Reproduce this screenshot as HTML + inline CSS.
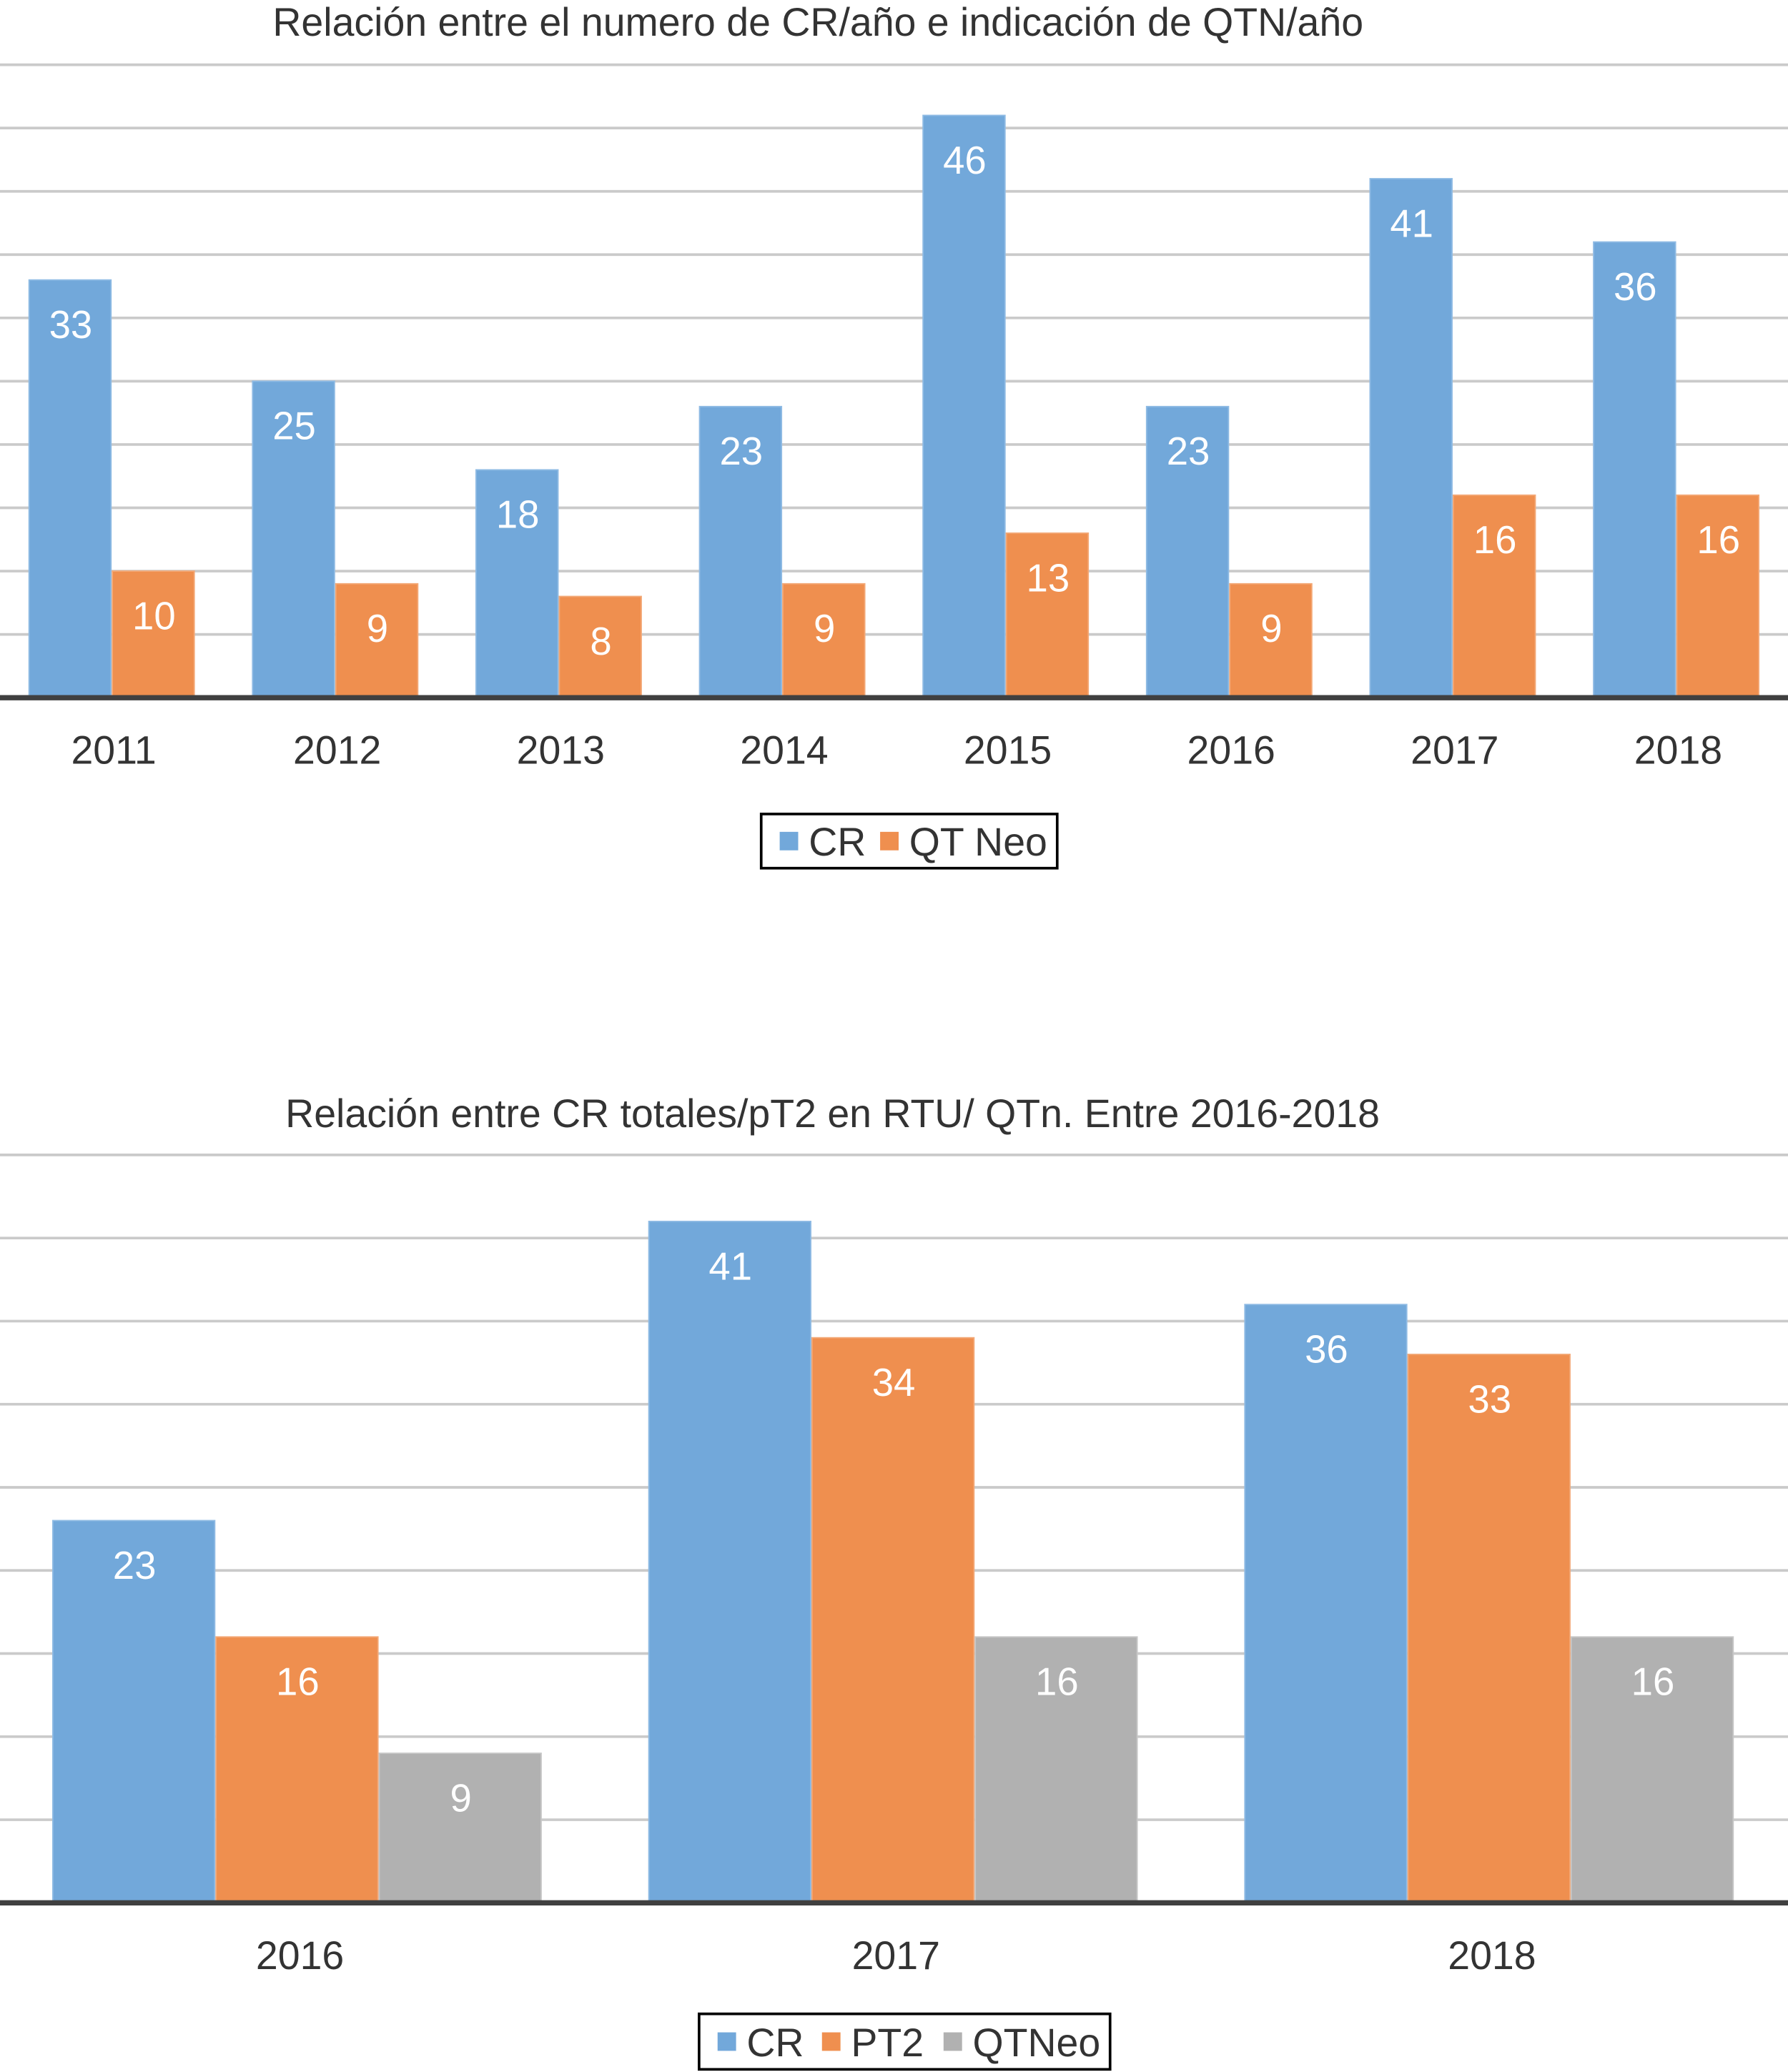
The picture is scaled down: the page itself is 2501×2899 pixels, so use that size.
<!DOCTYPE html>
<html><head><meta charset="utf-8"><style>
html,body{margin:0;padding:0;background:#fff;}
svg{display:block;}
text{font-family:"Liberation Sans",sans-serif;}
</style></head><body>
<svg id="svg" width="2501" height="2899" viewBox="0 0 1353 1568" preserveAspectRatio="none" xmlns="http://www.w3.org/2000/svg">
<text x="619" y="27" font-size="30" fill="#333" text-anchor="middle">Relación entre el numero de CR/año e indicación de QTN/año</text>
<text x="630" y="853" font-size="30" fill="#333" text-anchor="middle">Relación entre CR totales/pT2 en RTU/ QTn. Entre 2016-2018</text>
<g id="c1"></g>
<g id="c2"></g>
</svg>
<script>
const years1 = ["2011","2012","2013","2014","2015","2016","2017","2018"];
const cr1 = [33,25,18,23,46,23,41,36];
const qt1 = [10,9,8,9,13,9,16,16];
const years2 = ["2016","2017","2018"];
const cr2 = [23,41,36];
const pt2 = [16,34,33];
const qt2 = [9,16,16];
const NS="http://www.w3.org/2000/svg";
function mk(tag,attrs,parent){const e=document.createElementNS(NS,tag);for(const k in attrs)e.setAttribute(k,attrs[k]);parent.appendChild(e);return e;}
function chart(g,cfg){
  const y=v=>cfg.base-(v/cfg.max)*(cfg.base-cfg.top);
  for(let v=cfg.step;v<=cfg.max;v+=cfg.step){
    const l=mk('line',{x1:0,x2:1353,y1:y(v),y2:y(v),stroke:'#cacaca','stroke-width':2},g);
    
    
  }
  const cw=1353/cfg.cats.length;
  cfg.cats.forEach((c,i)=>{
    const x0=i*cw+cfg.pad;
    cfg.series.forEach((s,j)=>{
      const v=s.data[i];const bx=x0+j*cfg.bw;
      const r=mk('rect',{x:bx,y:y(v),width:cfg.bw-1,height:cfg.base-y(v),fill:s.color,stroke:s.edge,'stroke-width':1},g);
      
      
      const t=mk('text',{x:bx+cfg.bw/2,y:y(v)+cfg.lo,'font-size':29.5,fill:'#fff','text-anchor':'middle'},g);
      t.textContent=v;
      
      
    });
    const t=mk('text',{x:i*cw+cw/2+1.5,y:cfg.base+50,'font-size':30,fill:'#333','text-anchor':'middle'},g);
    t.textContent=c;
    
    
  });
  const b=mk('line',{x1:0,x2:1353,y1:cfg.base,y2:cfg.base,stroke:'#404040','stroke-width':4},g);
  
  
  const L=cfg.legend;
  const lb=mk('rect',{x:L.x,y:L.y,width:L.w,height:L.h,fill:'#fff',stroke:'#000','stroke-width':2},g);
  
  
  cfg.series.forEach((s,k)=>{
    const lx=L.sx[k];
    const sq=mk('rect',{x:lx,y:L.y+L.h/2-7,width:14,height:14,fill:s.color},g);
    
    
    const t=mk('text',{x:lx+22,y:L.y+L.h/2+11,'font-size':30,fill:'#333'},g);
    t.textContent=s.name;
    
    
  });
}
chart(document.getElementById('c1'),{cats:years1,max:50,step:5,top:49,base:528,pad:22,bw:63,lo:44,
  series:[{name:'CR',data:cr1,color:'#72a8da',edge:'#8fbbe4'},{name:'QT Neo',data:qt1,color:'#ef8f4f',edge:'#f3a876'}],
  legend:{x:576,y:616,w:224,h:41,sx:[590,666]}});
chart(document.getElementById('c2'),{cats:years2,max:45,step:5,top:874,base:1440,pad:40,bw:123.5,lo:44,
  series:[{name:'CR',data:cr2,color:'#72a8da',edge:'#8fbbe4'},{name:'PT2',data:pt2,color:'#ef8f4f',edge:'#f3a876'},{name:'QTNeo',data:qt2,color:'#b1b1b1',edge:'#c6c6c6'}],
  legend:{x:529,y:1524,w:311,h:42,sx:[543,622,714]}});
</script>
</body></html>
